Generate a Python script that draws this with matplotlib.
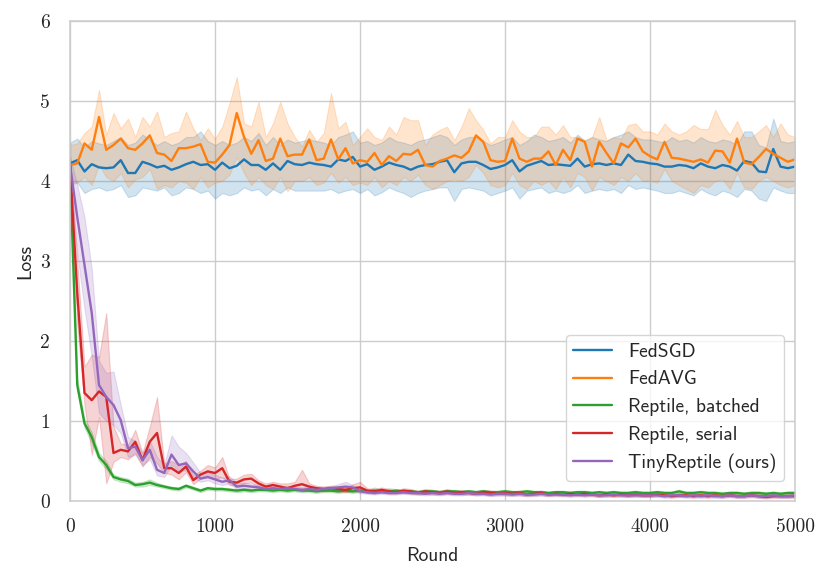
import numpy as np
import seaborn as sns
from matplotlib import pyplot as plt

# evaluation every 50 rounds
rounds = np.arange(0, 5001, 50)

fedsgd_mean = [4.22, 4.26, 4.12, 4.21, 4.17, 4.16, 4.17, 4.26, 4.10, 4.10,
               4.24, 4.21, 4.17, 4.19, 4.14, 4.17, 4.21, 4.24, 4.20, 4.21,
               4.14, 4.23, 4.16, 4.19, 4.27, 4.20, 4.20, 4.14, 4.22, 4.14,
               4.25, 4.21, 4.20, 4.23, 4.21, 4.20, 4.18, 4.27, 4.25, 4.30,
               4.18, 4.21, 4.14, 4.18, 4.23, 4.20, 4.18, 4.14, 4.18, 4.20,
               4.21, 4.24, 4.26, 4.11, 4.22, 4.24, 4.24, 4.20, 4.15, 4.17,
               4.20, 4.26, 4.12, 4.19, 4.22, 4.25, 4.20, 4.21, 4.20, 4.19,
               4.28, 4.18, 4.21, 4.22, 4.20, 4.22, 4.20, 4.33, 4.25, 4.24,
               4.22, 4.21, 4.18, 4.18, 4.20, 4.19, 4.16, 4.22, 4.18, 4.16,
               4.20, 4.18, 4.13, 4.25, 4.23, 4.12, 4.11, 4.40, 4.18, 4.16,
               4.18]
fedsgd_hi = [4.48, 4.53, 4.42, 4.50, 4.47, 4.45, 4.50, 4.55, 4.45, 4.48,
             4.58, 4.52, 4.45, 4.50, 4.45, 4.48, 4.55, 4.55, 4.62, 4.50,
             4.45, 4.50, 4.45, 4.48, 4.55, 4.50, 4.60, 4.45, 4.55, 4.45,
             4.52, 4.48, 4.50, 4.52, 4.50, 4.48, 4.45, 4.55, 4.58, 4.62,
             4.48, 4.50, 4.45, 4.48, 4.55, 4.50, 4.48, 4.45, 4.50, 4.52,
             4.55, 4.58, 4.55, 4.45, 4.52, 4.55, 4.55, 4.50, 4.45, 4.48,
             4.52, 4.55, 4.45, 4.50, 4.58, 4.55, 4.50, 4.52, 4.55, 4.48,
             4.58, 4.50, 4.55, 4.52, 4.50, 4.55, 4.58, 4.62, 4.55, 4.52,
             4.52, 4.50, 4.48, 4.55, 4.50, 4.52, 4.48, 4.55, 4.50, 4.48,
             4.52, 4.50, 4.45, 4.62, 4.62, 4.45, 4.42, 4.78, 4.50, 4.48,
             4.50]
fedsgd_lo = [3.95, 3.98, 3.85, 3.90, 3.92, 3.88, 3.90, 3.95, 3.80, 3.82,
             3.92, 3.90, 3.88, 3.92, 3.82, 3.85, 3.92, 3.90, 3.85, 3.88,
             3.78, 3.85, 3.82, 3.85, 3.92, 3.88, 3.90, 3.82, 3.90, 3.85,
             3.92, 3.88, 3.88, 3.88, 3.88, 3.88, 3.90, 3.85, 3.88, 3.90,
             3.85, 3.90, 3.82, 3.86, 3.92, 3.88, 3.85, 3.80, 3.85, 3.88,
             3.90, 3.92, 3.92, 3.75, 3.90, 3.92, 3.90, 3.88, 3.82, 3.85,
             3.88, 3.92, 3.78, 3.88, 3.90, 3.92, 3.85, 3.88, 3.85, 3.88,
             3.95, 3.85, 3.88, 3.90, 3.88, 3.90, 3.85, 3.95, 3.90, 3.92,
             3.90, 3.88, 3.85, 3.85, 3.88, 3.85, 3.82, 3.90, 3.85, 3.82,
             3.88, 3.85, 3.80, 3.90, 3.88, 3.78, 3.75, 3.92, 3.88, 3.85,
             3.85]

fedavg_mean = [4.20, 4.22, 4.47, 4.39, 4.80, 4.39, 4.45, 4.53, 4.41, 4.39,
               4.47, 4.57, 4.35, 4.33, 4.25, 4.41, 4.41, 4.43, 4.46, 4.24,
               4.23, 4.33, 4.45, 4.85, 4.55, 4.34, 4.51, 4.25, 4.28, 4.53,
               4.31, 4.33, 4.33, 4.52, 4.26, 4.28, 4.52, 4.27, 4.41, 4.22,
               4.26, 4.24, 4.35, 4.20, 4.31, 4.25, 4.34, 4.33, 4.39, 4.20,
               4.18, 4.25, 4.28, 4.32, 4.29, 4.37, 4.57, 4.49, 4.26, 4.24,
               4.25, 4.53, 4.28, 4.24, 4.28, 4.28, 4.37, 4.20, 4.39, 4.26,
               4.53, 4.49, 4.18, 4.49, 4.35, 4.22, 4.47, 4.42, 4.53, 4.37,
               4.31, 4.27, 4.49, 4.29, 4.28, 4.26, 4.24, 4.27, 4.23, 4.38,
               4.37, 4.23, 4.53, 4.23, 4.21, 4.30, 4.40, 4.34, 4.29, 4.24,
               4.27]
fedavg_hi = [4.45, 4.47, 4.60, 4.68, 5.14, 4.58, 4.85, 4.66, 4.78, 4.55,
             4.80, 4.68, 4.87, 4.55, 4.60, 4.62, 4.87, 4.66, 4.51, 4.66,
             4.53, 4.68, 4.97, 5.30, 4.72, 4.68, 4.99, 4.55, 4.72, 4.99,
             4.72, 4.55, 4.43, 4.64, 4.49, 4.60, 5.10, 4.66, 4.74, 4.45,
             4.55, 4.66, 4.55, 4.51, 4.68, 4.58, 4.80, 4.76, 4.76, 4.45,
             4.58, 4.64, 4.68, 4.51, 4.68, 4.91, 4.76, 4.64, 4.47, 4.55,
             4.55, 4.76, 4.62, 4.55, 4.55, 4.68, 4.68, 4.58, 4.70, 4.55,
             4.55, 4.51, 4.55, 4.80, 4.51, 4.55, 4.53, 4.70, 4.72, 4.62,
             4.62, 4.58, 4.72, 4.62, 4.58, 4.62, 4.70, 4.65, 4.65, 4.89,
             4.70, 4.58, 4.75, 4.55, 4.55, 4.62, 4.70, 4.55, 4.72, 4.58,
             4.55]
fedavg_lo = [4.00, 3.98, 4.05, 3.95, 4.20, 4.05, 4.00, 4.10, 3.92, 4.02,
             4.05, 4.15, 3.90, 3.95, 3.92, 4.00, 3.98, 3.90, 4.05, 3.92,
             3.98, 4.00, 4.08, 4.30, 4.10, 3.95, 4.05, 3.95, 3.90, 4.05,
             3.87, 4.00, 4.00, 4.05, 3.95, 3.98, 4.10, 3.98, 4.05, 3.95,
             3.98, 3.95, 4.05, 3.92, 4.00, 3.95, 4.05, 4.00, 4.08, 3.95,
             3.90, 3.95, 4.00, 4.02, 4.00, 4.05, 4.20, 4.10, 3.95, 3.92,
             3.95, 4.10, 3.95, 3.90, 4.00, 3.95, 4.00, 3.90, 4.05, 3.92,
             4.10, 4.05, 3.88, 4.05, 4.00, 3.95, 4.05, 4.00, 4.10, 4.00,
             4.00, 3.98, 4.15, 4.00, 3.95, 3.90, 3.85, 3.95, 3.92, 4.00,
             4.02, 3.90, 4.10, 3.92, 3.90, 4.00, 4.05, 4.00, 3.95, 3.92,
             3.95]

batched_mean = [4.20, 1.45, 0.97, 0.80, 0.55, 0.45, 0.30, 0.27, 0.25, 0.20,
                0.21, 0.23, 0.20, 0.18, 0.16, 0.15, 0.19, 0.16, 0.13, 0.16,
                0.15, 0.15, 0.14, 0.13, 0.14, 0.13, 0.14, 0.14, 0.13, 0.14,
                0.13, 0.14, 0.13, 0.13, 0.12, 0.13, 0.13, 0.12, 0.13, 0.12,
                0.13, 0.12, 0.13, 0.12, 0.12, 0.13, 0.12, 0.12, 0.11, 0.12,
                0.12, 0.11, 0.12, 0.12, 0.11, 0.12, 0.11, 0.12, 0.11, 0.11,
                0.12, 0.11, 0.11, 0.12, 0.11, 0.11, 0.10, 0.11, 0.11, 0.10,
                0.11, 0.11, 0.10, 0.11, 0.10, 0.11, 0.10, 0.10, 0.11, 0.10,
                0.10, 0.11, 0.10, 0.10, 0.12, 0.10, 0.10, 0.11, 0.10, 0.10,
                0.09, 0.10, 0.10, 0.09, 0.10, 0.10, 0.09, 0.10, 0.09, 0.10,
                0.10]
batched_hi = [4.25, 1.52, 1.03, 0.86, 0.60, 0.50, 0.33, 0.30, 0.28, 0.23,
              0.24, 0.27, 0.23, 0.20, 0.18, 0.17, 0.21, 0.18, 0.15, 0.18,
              0.17, 0.17, 0.16, 0.15, 0.16, 0.15, 0.16, 0.16, 0.15, 0.16,
              0.15, 0.16, 0.15, 0.15, 0.14, 0.15, 0.15, 0.14, 0.15, 0.14,
              0.15, 0.14, 0.17, 0.14, 0.16, 0.15, 0.14, 0.14, 0.13, 0.14,
              0.14, 0.13, 0.14, 0.14, 0.13, 0.14, 0.13, 0.14, 0.13, 0.13,
              0.14, 0.13, 0.13, 0.14, 0.13, 0.13, 0.12, 0.13, 0.13, 0.12,
              0.13, 0.13, 0.12, 0.13, 0.12, 0.13, 0.12, 0.12, 0.13, 0.12,
              0.12, 0.13, 0.12, 0.12, 0.14, 0.12, 0.12, 0.13, 0.12, 0.12,
              0.11, 0.12, 0.12, 0.11, 0.12, 0.12, 0.11, 0.12, 0.11, 0.12,
              0.12]
batched_lo = [4.15, 1.38, 0.92, 0.72, 0.50, 0.40, 0.27, 0.24, 0.22, 0.18,
              0.18, 0.20, 0.18, 0.16, 0.14, 0.13, 0.17, 0.14, 0.11, 0.14,
              0.13, 0.13, 0.12, 0.11, 0.12, 0.11, 0.12, 0.12, 0.11, 0.12,
              0.11, 0.12, 0.11, 0.11, 0.10, 0.11, 0.11, 0.10, 0.11, 0.10,
              0.11, 0.10, 0.11, 0.10, 0.10, 0.11, 0.10, 0.10, 0.09, 0.10,
              0.10, 0.09, 0.10, 0.10, 0.09, 0.10, 0.09, 0.10, 0.09, 0.09,
              0.10, 0.09, 0.09, 0.10, 0.09, 0.09, 0.08, 0.09, 0.09, 0.08,
              0.09, 0.09, 0.08, 0.09, 0.08, 0.09, 0.08, 0.08, 0.09, 0.08,
              0.08, 0.09, 0.08, 0.08, 0.10, 0.08, 0.08, 0.09, 0.08, 0.08,
              0.07, 0.08, 0.08, 0.07, 0.08, 0.08, 0.07, 0.08, 0.07, 0.08,
              0.08]

serial_mean = [4.20, 2.60, 1.35, 1.26, 1.37, 1.30, 0.60, 0.64, 0.62, 0.74,
               0.51, 0.74, 0.85, 0.41, 0.41, 0.35, 0.43, 0.26, 0.33, 0.37,
               0.35, 0.41, 0.24, 0.23, 0.27, 0.28, 0.22, 0.18, 0.20, 0.18,
               0.16, 0.19, 0.21, 0.18, 0.16, 0.15, 0.16, 0.15, 0.14, 0.16,
               0.17, 0.13, 0.12, 0.14, 0.12, 0.11, 0.13, 0.12, 0.10, 0.12,
               0.11, 0.10, 0.12, 0.10, 0.11, 0.10, 0.09, 0.11, 0.10, 0.09,
               0.10, 0.09, 0.10, 0.08, 0.09, 0.10, 0.08, 0.09, 0.08, 0.09,
               0.08, 0.09, 0.08, 0.07, 0.08, 0.07, 0.08, 0.07, 0.08, 0.07,
               0.07, 0.08, 0.07, 0.06, 0.07, 0.07, 0.06, 0.07, 0.06, 0.07,
               0.06, 0.07, 0.06, 0.06, 0.07, 0.06, 0.05, 0.06, 0.06, 0.06,
               0.06]
serial_hi = [4.30, 3.00, 1.68, 1.83, 1.80, 2.35, 0.93, 0.72, 0.70, 0.89,
             0.60, 0.93, 1.30, 0.47, 0.50, 0.45, 0.50, 0.32, 0.38, 0.45,
             0.42, 0.55, 0.28, 0.28, 0.33, 0.34, 0.26, 0.22, 0.24, 0.22,
             0.22, 0.24, 0.39, 0.22, 0.19, 0.18, 0.19, 0.18, 0.17, 0.21,
             0.24, 0.16, 0.15, 0.17, 0.15, 0.13, 0.16, 0.15, 0.13, 0.15,
             0.14, 0.13, 0.15, 0.13, 0.14, 0.13, 0.12, 0.14, 0.13, 0.12,
             0.13, 0.12, 0.13, 0.11, 0.12, 0.13, 0.11, 0.12, 0.11, 0.12,
             0.11, 0.12, 0.11, 0.10, 0.11, 0.10, 0.11, 0.10, 0.11, 0.10,
             0.10, 0.11, 0.10, 0.09, 0.10, 0.10, 0.09, 0.10, 0.09, 0.10,
             0.09, 0.10, 0.09, 0.09, 0.10, 0.09, 0.08, 0.09, 0.09, 0.09,
             0.09]
serial_lo = [4.10, 2.20, 1.20, 0.58, 1.05, 0.22, 0.49, 0.55, 0.52, 0.60,
             0.43, 0.55, 0.47, 0.35, 0.33, 0.27, 0.36, 0.21, 0.28, 0.30,
             0.28, 0.30, 0.20, 0.19, 0.22, 0.23, 0.18, 0.15, 0.16, 0.15,
             0.13, 0.15, 0.15, 0.15, 0.13, 0.12, 0.13, 0.12, 0.11, 0.12,
             0.12, 0.10, 0.09, 0.11, 0.09, 0.09, 0.10, 0.09, 0.08, 0.09,
             0.08, 0.08, 0.09, 0.08, 0.08, 0.08, 0.07, 0.08, 0.07, 0.07,
             0.07, 0.07, 0.07, 0.06, 0.07, 0.07, 0.06, 0.07, 0.06, 0.07,
             0.06, 0.07, 0.06, 0.05, 0.06, 0.05, 0.06, 0.05, 0.06, 0.05,
             0.05, 0.06, 0.05, 0.04, 0.05, 0.05, 0.04, 0.05, 0.04, 0.05,
             0.04, 0.05, 0.04, 0.04, 0.05, 0.04, 0.03, 0.04, 0.04, 0.04,
             0.04]

tiny_mean = [4.20, 3.55, 2.95, 2.35, 1.45, 1.30, 1.20, 1.01, 0.66, 0.68,
             0.51, 0.64, 0.39, 0.35, 0.58, 0.45, 0.47, 0.37, 0.28, 0.30,
             0.27, 0.24, 0.26, 0.18, 0.19, 0.18, 0.17, 0.15, 0.16, 0.15,
             0.16, 0.15, 0.14, 0.15, 0.14, 0.15, 0.16, 0.17, 0.18, 0.17,
             0.12, 0.11, 0.10, 0.11, 0.10, 0.10, 0.11, 0.10, 0.10, 0.09,
             0.10, 0.09, 0.10, 0.09, 0.09, 0.10, 0.09, 0.09, 0.08, 0.09,
             0.09, 0.08, 0.09, 0.08, 0.08, 0.09, 0.08, 0.08, 0.08, 0.07,
             0.08, 0.07, 0.08, 0.07, 0.07, 0.08, 0.07, 0.07, 0.07, 0.07,
             0.07, 0.07, 0.06, 0.07, 0.07, 0.06, 0.07, 0.06, 0.07, 0.06,
             0.06, 0.07, 0.06, 0.06, 0.07, 0.06, 0.06, 0.07, 0.06, 0.06,
             0.07]
tiny_hi = [4.30, 3.95, 3.55, 2.90, 1.75, 1.60, 1.62, 1.20, 0.80, 0.75,
           0.60, 0.75, 0.55, 0.45, 0.82, 0.68, 0.60, 0.48, 0.35, 0.36,
           0.33, 0.29, 0.31, 0.22, 0.23, 0.21, 0.20, 0.18, 0.19, 0.18,
           0.19, 0.18, 0.17, 0.18, 0.17, 0.18, 0.19, 0.21, 0.24, 0.20,
           0.15, 0.13, 0.12, 0.13, 0.12, 0.12, 0.13, 0.12, 0.12, 0.11,
           0.12, 0.11, 0.12, 0.11, 0.11, 0.12, 0.11, 0.11, 0.10, 0.11,
           0.11, 0.10, 0.11, 0.10, 0.10, 0.11, 0.10, 0.10, 0.10, 0.09,
           0.10, 0.09, 0.10, 0.09, 0.09, 0.10, 0.09, 0.09, 0.09, 0.09,
           0.09, 0.09, 0.08, 0.09, 0.09, 0.08, 0.09, 0.08, 0.09, 0.08,
           0.08, 0.09, 0.08, 0.08, 0.09, 0.08, 0.08, 0.09, 0.08, 0.08,
           0.09]
tiny_lo = [4.10, 3.10, 2.40, 1.80, 1.10, 1.00, 0.95, 0.85, 0.55, 0.58,
           0.45, 0.52, 0.32, 0.30, 0.45, 0.38, 0.38, 0.30, 0.24, 0.26,
           0.22, 0.20, 0.22, 0.15, 0.16, 0.15, 0.14, 0.13, 0.14, 0.13,
           0.14, 0.13, 0.12, 0.13, 0.12, 0.13, 0.14, 0.14, 0.13, 0.13,
           0.10, 0.09, 0.08, 0.09, 0.08, 0.08, 0.09, 0.08, 0.08, 0.07,
           0.08, 0.07, 0.08, 0.07, 0.07, 0.08, 0.07, 0.07, 0.06, 0.07,
           0.07, 0.06, 0.07, 0.06, 0.06, 0.07, 0.06, 0.06, 0.06, 0.05,
           0.06, 0.05, 0.06, 0.05, 0.05, 0.06, 0.05, 0.05, 0.05, 0.05,
           0.05, 0.05, 0.04, 0.05, 0.05, 0.04, 0.05, 0.04, 0.05, 0.04,
           0.04, 0.05, 0.04, 0.04, 0.05, 0.04, 0.04, 0.05, 0.04, 0.04,
           0.05]

labels = ["FedSGD", "FedAVG", "Reptile, batched", "Reptile, serial", "TinyReptile (ours)"]
colors = ["tab:blue", "tab:orange", "tab:green", "tab:red", "tab:purple"]
means = [fedsgd_mean, fedavg_mean, batched_mean, serial_mean, tiny_mean]
his = [fedsgd_hi, fedavg_hi, batched_hi, serial_hi, tiny_hi]
los = [fedsgd_lo, fedavg_lo, batched_lo, serial_lo, tiny_lo]

sns.set_style("whitegrid")
plt.rcParams["axes.edgecolor"] = "#cccccc"
plt.rcParams["axes.linewidth"] = 1.1
plt.rcParams["grid.color"] = "#cccccc"
plt.rcParams["grid.linewidth"] = 1.0

fig, ax = plt.subplots(figsize=(8.3, 5.79), dpi=100)
fig.subplots_adjust(left=70/830, right=795/830, top=1-21/579, bottom=1-501/579)

for label, color, m, hi, lo in zip(labels, colors, means, his, los):
    ax.fill_between(rounds, lo, hi, color=color, alpha=0.2, linewidth=0.8)
    ax.plot(rounds, m, color=color, linewidth=1.7, label=label)

ax.set_xlim(0, 5000)
ax.set_ylim(0, 6)
ax.set_xticks(range(0, 5001, 1000))
ax.set_yticks(range(0, 7))
ax.set_xticklabels([str(t) for t in range(0, 5001, 1000)], fontfamily="cmr10", fontsize=14)
ax.set_yticklabels([str(t) for t in range(0, 7)], fontfamily="cmr10", fontsize=14)
ax.tick_params(colors="#262626")
ax.tick_params(axis="x", pad=9)
ax.tick_params(axis="y", pad=11)
ax.set_xlabel("Round", fontfamily="cmss10", fontsize=14, color="#262626", labelpad=8)
ax.set_ylabel("Loss", fontfamily="cmss10", fontsize=14, color="#262626", labelpad=4)

leg = ax.legend(loc="lower right", bbox_to_anchor=(0.985, 0.042), borderaxespad=0,
                prop={"family": "cmss10", "size": 14}, framealpha=0.8,
                edgecolor="#cccccc", fancybox=True)
for t in leg.get_texts():
    t.set_color("#262626")

plt.savefig("out.png")
